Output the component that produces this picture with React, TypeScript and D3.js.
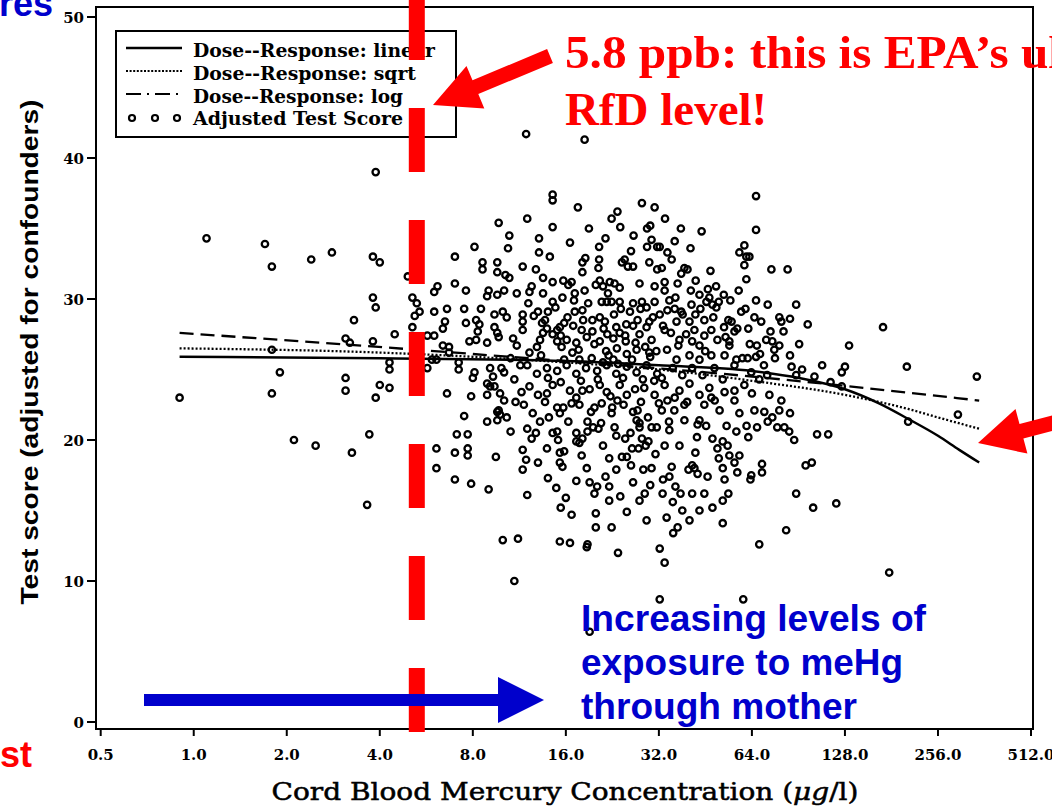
import React from "react";
import * as d3 from "d3";

// axis ticks
const mercuryTicks = [0.5, 1, 2, 4, 8, 16, 32, 64, 128, 256, 512];
const scoreTicks = [0, 10, 20, 30, 40, 50];

// [cord blood mercury (ug/l), adjusted test score]
const testScores: [number, number][] = [
  [0.9, 23.0], [1.1, 34.3], [1.7, 33.9], [1.79, 32.3], [2.4, 32.8], [2.8, 33.3], [3.8, 33.0], [4.0, 32.6],
  [4.93, 31.6], [3.8, 30.1], [3.88, 29.4], [3.3, 28.5], [4.47, 27.5], [3.1, 27.2], [3.2, 26.9], [3.8, 27.0],
  [1.79, 26.4], [4.3, 25.5], [4.3, 25.0], [1.9, 24.8], [3.1, 24.4], [3.1, 23.5], [4.0, 23.9], [4.3, 23.7],
  [1.79, 23.3], [3.88, 23.0], [3.88, 39.0], [2.11, 20.0], [2.48, 19.6], [3.25, 19.1], [3.7, 20.4], [3.64, 15.4],
  [5.1, 30.1], [5.27, 29.7], [5.38, 29.1], [5.19, 28.8], [5.1, 28.0], [6.0, 30.5], [6.15, 30.9], [7.0, 33.0],
  [8.1, 33.7], [8.6, 32.6], [8.6, 32.1], [9.7, 35.4], [9.6, 32.6], [9.6, 31.9], [7.0, 31.1], [7.6, 30.6],
  [9.0, 30.6], [8.9, 30.2], [9.6, 30.3], [6.0, 29.1], [6.6, 29.3], [7.5, 29.3], [8.5, 29.3], [6.5, 28.4],
  [6.4, 27.9], [7.6, 28.3], [8.2, 28.5], [8.4, 28.2], [8.3, 27.7], [5.7, 27.4], [6.0, 27.4], [6.4, 26.7],
  [6.7, 26.6], [7.8, 27.0], [8.2, 27.1], [8.9, 26.9], [5.7, 25.1], [5.9, 25.7], [7.2, 25.5], [7.2, 25.0],
  [8.1, 24.8], [8.0, 24.4], [9.1, 25.1], [9.3, 24.5], [8.9, 24.0], [9.4, 23.8], [6.6, 23.3], [7.9, 23.1],
  [8.9, 23.2], [7.5, 21.7], [9.6, 22.0], [11.9, 41.7], [18.4, 41.3], [14.5, 37.4], [14.5, 37.0], [28.2, 36.8],
  [31.0, 36.5], [22.5, 35.7], [14.5, 35.1], [30.0, 35.2], [29.3, 35.0], [26.5, 34.5], [30.3, 34.2], [31.6, 33.7],
  [29.3, 33.7], [13.1, 34.3], [13.1, 33.3], [14.2, 33.0], [10.4, 33.6], [11.6, 32.3], [12.8, 32.1], [10.2, 31.7],
  [10.5, 31.5], [13.5, 31.5], [14.5, 31.2], [15.7, 31.3], [16.7, 31.2], [16.3, 31.0], [18.5, 32.9], [18.1, 32.6],
  [18.1, 31.9], [20.5, 33.7], [20.5, 32.8], [20.4, 32.2], [24.3, 32.6], [24.8, 32.8], [25.4, 32.3], [26.4, 32.3],
  [31.6, 32.1], [10.1, 30.6], [11.1, 30.4], [12.2, 30.5], [12.4, 30.9], [13.5, 30.4], [14.5, 29.8], [15.6, 30.1],
  [17.1, 30.4], [17.0, 29.9], [18.4, 30.6], [20.0, 31.0], [20.6, 31.3], [21.1, 30.9], [22.2, 31.2], [23.0, 31.1],
  [23.9, 30.8], [21.9, 30.4], [21.7, 29.8], [20.9, 29.8], [22.5, 29.8], [23.9, 29.8], [27.7, 31.1], [31.0, 30.9],
  [26.4, 29.7], [28.2, 29.8], [29.2, 29.4], [31.0, 29.8], [10.0, 29.1], [10.3, 28.7], [9.4, 28.9], [11.6, 28.9],
  [11.6, 28.4], [11.6, 27.8], [12.1, 29.7], [13.0, 29.1], [14.0, 29.1], [13.7, 28.5], [13.4, 28.3], [15.0, 27.8],
  [15.3, 28.0], [15.8, 28.3], [16.2, 28.7], [17.1, 29.1], [18.1, 29.2], [18.2, 28.5], [19.5, 28.5], [20.6, 28.7],
  [21.4, 28.4], [23.3, 28.0], [25.1, 28.2], [27.3, 28.5], [29.8, 28.4], [32.2, 28.9],
  [66, 37.3], [66, 34.9], [37.7, 35.0], [32.2, 33.7], [35.2, 32.8], [60.5, 33.8], [58.3, 33.3], [61.4, 33.0],
  [62.8, 33.0], [60.5, 32.4], [61.4, 31.4], [74, 32.1], [83.5, 32.1], [47, 32.0], [38.7, 32.2], [39.6, 32.1],
  [37.8, 31.8], [42.1, 31.3], [33.4, 31.2], [36.8, 31.1], [49, 30.9], [51.9, 30.3], [46.6, 30.1], [45.6, 29.8],
  [49.1, 29.4], [47.7, 29.6], [66, 29.9], [89, 29.6], [78.5, 28.7], [79.7, 28.4], [68.6, 28.4], [97, 28.2],
  [170, 28.0], [73.5, 27.7], [57.4, 27.9], [56.2, 27.7], [62.3, 27.9], [52.6, 27.3], [54.1, 27.0], [71.2, 27.1],
  [74.5, 27.0], [75.6, 26.4], [78.5, 26.7], [132, 26.7], [85, 26.0], [66, 25.9], [57, 25.7], [59.6, 25.8],
  [62, 25.8], [128, 25.2], [125, 24.8], [102, 24.5], [86, 25.2], [89, 24.6], [93, 25.0], [70, 25.3], [71.7, 24.6],
  [32.7, 32.2], [33.4, 30.6], [34.6, 29.9], [34.1, 29.2], [33.4, 27.8], [37.3, 27.1], [40.2, 28.4], [41.7, 27.8],
  [43.3, 26.7], [44.9, 28.5], [47.3, 27.8], [40.2, 26.0], [36.5, 25.7], [43.3, 25.7], [47.3, 26.0], [49.5, 27.1],
  [52.2, 26.0], [54.1, 26.7], [56.2, 25.3],
  [125, 23.8], [85, 21.9], [78.5, 22.1], [104, 20.4], [113, 20.4], [87.7, 20.0], [74.5, 21.6], [77.3, 20.9],
  [81.5, 20.9], [84.5, 20.6], [62.3, 20.2], [47.7, 20.1], [51.5, 19.9], [53.4, 19.6], [42, 19.1], [50, 18.7],
  [54.1, 18.9], [58.3, 18.9], [56.2, 18.4], [57.4, 17.7], [69, 18.3], [69, 17.7], [63.7, 17.5], [63.3, 17.2],
  [51.5, 18.0], [52.2, 17.2], [95.5, 18.2], [100, 18.4], [41, 18.2], [41.7, 18.0], [42.7, 17.6], [39.9, 17.9],
  [35.2, 18.1], [34.6, 17.4], [36.2, 16.7], [37.6, 16.2], [41, 16.2], [44.9, 16.2], [53.7, 16.2], [51.5, 15.7],
  [47.7, 15.2], [32.9, 16.2], [38.1, 15.0], [33.9, 14.5], [36.8, 13.8], [35.6, 13.4], [51.5, 14.1], [89, 16.2],
  [101, 15.2], [120, 15.5], [82.6, 13.6], [67.6, 12.6], [33.4, 11.3], [178, 10.6], [60, 8.7], [32.2, 8.7],
  [32.2, 12.3], [42.7, 21.1],
  [33.4, 23.9], [37.3, 23.5], [40.2, 24.0], [43.3, 23.2], [46.6, 23.7], [52.2, 23.4], [56.2, 22.8], [60.5, 23.9],
  [64, 23.3], [67.6, 24.3], [34.1, 22.8], [35.9, 22.1], [38.7, 21.4], [44.9, 22.5], [50.3, 22.1], [58.3, 21.9],
  [65.2, 22.1], [70.2, 22.0], [43.3, 21.4], [34.6, 20.7], [33.4, 19.6], [37.3, 19.6], [38.7, 22.5], [32.7, 22.1],
  [203, 25.2], [342, 24.5], [297, 21.8], [205, 21.3],
  [8.9, 21.3], [9.6, 21.4], [9.8, 21.8], [9.7, 22.1], [10.3, 21.6], [11.7, 22.5], [7.1, 20.4], [7.7, 20.4],
  [6.1, 19.4], [6.1, 18.0], [7.0, 19.1], [7.7, 19.4], [7.7, 18.9], [9.5, 18.8], [7.0, 17.2], [7.9, 16.9],
  [9.0, 16.5], [11.6, 19.3], [11.9, 18.6], [11.6, 17.9], [13.0, 18.4], [12.0, 20.8], [12.8, 20.5], [12.4, 20.1],
  [13.2, 21.3], [14.1, 21.6], [14.5, 20.5], [15.0, 20.6], [15.1, 20.0], [15.3, 19.1], [15.8, 19.2], [15.3, 18.4],
  [15.6, 18.1], [17.3, 20.5], [17.7, 19.8], [18.1, 20.1], [17.3, 19.9], [18.7, 18.0], [17.3, 17.1], [19.1, 17.0],
  [20.2, 16.7], [19.8, 16.2], [14.9, 16.6], [15.4, 15.2], [16.7, 14.7], [20.0, 14.8], [20.0, 13.8], [15.3, 12.8],
  [16.5, 12.7], [10.0, 12.9], [11.2, 13.0], [18.8, 12.6], [18.7, 12.4], [23.6, 12.0], [10.9, 10.0], [22.1, 15.7],
  [22.1, 16.7], [22.1, 18.7], [24.3, 18.8], [25.2, 18.8], [23.3, 20.3], [24.9, 20.1], [26.4, 17.0], [30.0, 16.8],
  [28.5, 17.9], [30.3, 18.0], [26.2, 19.4], [27.5, 19.4], [29.0, 19.6], [29.6, 19.9], [28.2, 20.1], [27.7, 20.9],
  [18.8, 20.6], [19.6, 20.9], [20.4, 20.8], [18.8, 21.3], [15.0, 22.3], [15.7, 22.3], [15.3, 21.9], [16.7, 22.6],
  [17.7, 22.5], [19.8, 22.3], [20.9, 22.6], [22.5, 21.9], [23.5, 22.8], [22.6, 22.3], [26.4, 22.0], [27.3, 22.1],
  [27.1, 21.4], [27.7, 21.2], [30.3, 20.9], [31.5, 20.9], [9.1, 23.8], [9.8, 23.3], [10.1, 22.8], [12.2, 23.8],
  [13.0, 23.2], [13.7, 22.7], [13.9, 23.3], [15.4, 24.1], [16.5, 23.5], [17.3, 23.0], [18.1, 23.5], [19.1, 23.6],
  [20.6, 23.9], [21.7, 23.4], [23.9, 23.9], [25.2, 23.2], [28.7, 23.7], [31.0, 23.2], [19.1, 6.4],
  [6.7, 26.2], [9.6, 27.6], [9.4, 28.0], [9.7, 27.3], [9.9, 25.1], [10.1, 24.8], [6.1, 25.7], [12.2, 26.2],
  [12.9, 26.6], [13.2, 27.1], [13.5, 27.6], [13.9, 27.9], [14.5, 27.5], [15.0, 27.0], [15.4, 27.4], [16.1, 27.1],
  [16.8, 26.2], [17.3, 26.9], [18.0, 27.8], [18.7, 27.3], [19.5, 27.7], [20.6, 27.0], [21.8, 27.5], [22.8, 27.2],
  [23.9, 27.6], [25.0, 27.0], [26.4, 28.1], [27.7, 27.5], [29.2, 28.0], [30.3, 27.1], [12.0, 25.3], [12.9, 24.7],
  [13.9, 25.1], [15.0, 24.9], [16.1, 25.3], [17.3, 24.7], [18.6, 25.1], [20.2, 24.9], [21.7, 25.3], [23.3, 24.7],
  [25.2, 25.2], [27.1, 24.8], [29.2, 25.3], [31.6, 24.7], [21.6, 26.3], [23.4, 26.5], [25.2, 26.1], [27.1, 26.4],
  [29.8, 26.2], [10.6, 25.8], [11.1, 26.7], [10.9, 24.3], [11.5, 23.4], [14.5, 23.9], [15.8, 25.7], [17.7, 25.7],
  [19.4, 25.8], [21.1, 25.5], [22.8, 25.7], [24.5, 24.4], [26.2, 25.7], [28.4, 24.3], [30.0, 25.9], [32.7, 24.4],
  [35.5, 25.1], [38.1, 24.6], [41.0, 25.1], [44.3, 24.6], [48.4, 25.1], [51.5, 24.3], [63.7, 24.8], [53.7, 28.5],
  [59.1, 29.1], [65.2, 28.7], [40.8, 29.6], [37.8, 29.1], [43.3, 30.3], [54.5, 29.9], [36.2, 30.1], [29.8, 32.6],
  [34.1, 33.3], [36.5, 28.4], [41.0, 27.0], [44.9, 27.4], [66.4, 26.7], [56.2, 23.5], [47.3, 23.0], [72.9, 23.2],
  [79.7, 22.8], [10.6, 20.6], [13.9, 19.4], [21.1, 19.6], [23.3, 17.9], [27.7, 15.7], [25.2, 14.9], [29.2, 14.3],
  [40.2, 14.3], [22.5, 13.8], [43.3, 15.0],
  [10.8, 27.2], [11.4, 25.3], [12.6, 28.8], [13.3, 26.0], [14.8, 29.4], [15.5, 26.6], [16.9, 28.1], [17.6, 26.4],
  [18.9, 29.7], [19.8, 26.8], [20.3, 24.3], [21.2, 27.9], [22.0, 26.0], [22.9, 28.9], [23.6, 25.4], [24.1, 29.3],
  [24.9, 27.4], [25.8, 29.1], [26.9, 26.9], [27.9, 29.3], [28.9, 26.6], [30.6, 28.7], [31.4, 26.3], [33.0, 28.1],
  [34.0, 26.4], [35.0, 27.6], [36.0, 29.3], [37.0, 26.7], [38.2, 28.9], [39.2, 27.5], [40.6, 30.6], [42.0, 28.9],
  [43.6, 29.3], [45.2, 26.3], [46.1, 30.7], [48.0, 28.7], [50.0, 29.8], [52.0, 28.0], [55.0, 28.4], [58.0, 30.6],
  [61.0, 29.3], [63.0, 26.8], [68.0, 26.1], [72.0, 29.6], [76.0, 25.8], [81.0, 27.7], [85.0, 28.6], [91.0, 26.8],
  [108, 25.3], [115, 24.1], [11.0, 22.7], [12.5, 21.9], [14.0, 24.4], [16.3, 21.3], [17.9, 24.2], [19.3, 22.0],
  [20.8, 21.2], [22.3, 23.1], [23.0, 20.9], [24.6, 22.5], [25.9, 20.5], [26.8, 23.6], [28.0, 22.7], [29.5, 21.6],
  [30.9, 24.2], [32.0, 22.6], [34.5, 21.3], [36.0, 23.0], [39.5, 22.7], [42.5, 20.2], [45.5, 21.0], [48.5, 22.8],
  [53.0, 21.0], [57.0, 20.6], [61.5, 21.0], [66.5, 20.9], [72.0, 21.3], [18.0, 18.9], [21.5, 17.4], [24.0, 16.0],
  [26.0, 18.2], [28.8, 16.2], [31.2, 19.0], [33.0, 17.2], [35.5, 15.6], [46.0, 17.4], [49.5, 19.4], [14.0, 17.3],
  [12.0, 16.1], [16.0, 15.9], [10.5, 34.5], [12.0, 35.7], [16.5, 34.0], [19.0, 35.0], [21.5, 34.3], [24.0, 35.1],
  [26.0, 33.4], [33.5, 35.7], [36.0, 34.1], [40.5, 33.6], [44.0, 34.8], [23.5, 36.2], [17.5, 36.5],
];

// fitted curves, read as points along each line
const fitLinear: [number, number][] = [
  [0.9, 25.9], [4, 25.8], [16, 25.6], [32, 25.3], [64, 24.9], [91, 24.4], [128, 23.6], [165, 22.6],
  [205, 21.5], [256, 20.3], [300, 19.3], [348, 18.4],
];
const fitSqrt: [number, number][] = [
  [0.9, 26.5], [4, 26.2], [16, 25.5], [32, 25.0], [64, 24.2], [128, 23.2], [205, 22.2], [256, 21.6], [348, 20.8],
];
const fitLog: [number, number][] = [[0.9, 27.6], [8, 26.1], [64, 24.5], [348, 22.8]];

const legendLabels = [
  "Dose--Response: linear",
  "Dose--Response: sqrt",
  "Dose--Response: log",
  "Adjusted Test Score",
];
const legendWidths = [242, 223, 210, 210];

const rfdLevel = 5.27;
const blueLines = ["Increasing levels of", "exposure to meHg", "through mother"];
const blueWidths = [345, 322, 276];

const serif = "'DejaVu Serif', serif";
const sans = "'Liberation Sans', Arial, sans-serif";
const redTimes = "'Liberation Serif', 'Times New Roman', serif";

function arrowPath(tail: [number, number], tip: [number, number], shaft: number, headLen: number, headW: number) {
  const dx = tip[0] - tail[0];
  const dy = tip[1] - tail[1];
  const len = Math.hypot(dx, dy);
  const ux = dx / len, uy = dy / len;
  const nx = -uy, ny = ux;
  const bx = tip[0] - ux * headLen, by = tip[1] - uy * headLen;
  const p = (x: number, y: number) => `${x.toFixed(1)},${y.toFixed(1)}`;
  return (
    "M" + p(tail[0] + nx * shaft / 2, tail[1] + ny * shaft / 2) +
    "L" + p(bx + nx * shaft / 2, by + ny * shaft / 2) +
    "L" + p(bx + nx * headW / 2, by + ny * headW / 2) +
    "L" + p(tip[0], tip[1]) +
    "L" + p(bx - nx * headW / 2, by - ny * headW / 2) +
    "L" + p(bx - nx * shaft / 2, by - ny * shaft / 2) +
    "L" + p(tail[0] - nx * shaft / 2, tail[1] - ny * shaft / 2) + "Z"
  );
}

export default function App() {
  const x = d3.scaleLog().base(2).domain([0.5, 512]).range([100.7, 1031]);
  const y = d3.scaleLinear().domain([0, 50]).range([722, 17]);
  const fitLine = d3
    .line<[number, number]>()
    .x((d) => x(d[0]))
    .y((d) => y(d[1]))
    .curve(d3.curveMonotoneX);

  const left = 96, right = 1033, top = 7, bottom = 729;
  const legendX = 116, legendY = 31;
  const rowBase = [57, 80, 103, 125];

  return (
    <div style={{ width: 1052, height: 809 }}>
      <style>{"body{margin:0;background:#fff}"}</style>
      <svg width={1052} height={809} style={{ display: "block" }}>
        <rect width={1052} height={809} fill="#fff" />

        {/* frame */}
        <rect x={left} y={top} width={right - left} height={bottom - top} fill="none" stroke="#000" strokeWidth={2} />

        {/* y axis */}
        {scoreTicks.map((t) => (
          <g key={"y" + t}>
            <line x1={87} x2={left} y1={y(t)} y2={y(t)} stroke="#000" strokeWidth={2} />
            <text x={84} y={y(t) + 5.5} textAnchor="end" fontFamily={serif} fontWeight="bold" fontSize={15}>
              {t}
            </text>
          </g>
        ))}
        <text
          transform="translate(38,352) rotate(-90)"
          textAnchor="middle"
          fontFamily={sans}
          fontWeight="bold"
          fontSize={24}
          textLength={505}
          lengthAdjust="spacingAndGlyphs"
        >
          Test score (adjusted for confounders)
        </text>

        {/* x axis */}
        {mercuryTicks.map((t) => (
          <g key={"x" + t}>
            <line x1={x(t)} x2={x(t)} y1={bottom} y2={bottom + 7} stroke="#000" strokeWidth={2} />
            <text x={x(t)} y={760} textAnchor="middle" fontFamily={serif} fontWeight="bold" fontSize={15}>
              {t.toFixed(1)}
            </text>
          </g>
        ))}
        <text
          x={565}
          y={800}
          textAnchor="middle"
          fontFamily={serif}
          fontSize={24}
          stroke="#000"
          strokeWidth={0.5}
          textLength={587}
          lengthAdjust="spacingAndGlyphs"
        >
          Cord Blood Mercury Concentration (<tspan fontStyle="italic">μg</tspan>/l)
        </text>

        {/* scatter */}
        <g fill="none" stroke="#000" strokeWidth={2.3}>
          {testScores.map((d, i) => (
            <circle key={i} cx={x(d[0])} cy={y(d[1])} r={3.2} />
          ))}
        </g>

        {/* fits */}
        <path d={fitLine(fitLog) || ""} fill="none" stroke="#000" strokeWidth={2.3} strokeDasharray="14,7" />
        <path d={fitLine(fitSqrt) || ""} fill="none" stroke="#000" strokeWidth={2.3} strokeDasharray="2,2" />
        <path d={fitLine(fitLinear) || ""} fill="none" stroke="#000" strokeWidth={2.5} />

        {/* legend */}
        <rect x={legendX} y={legendY} width={340} height={106} fill="#fff" stroke="#000" strokeWidth={2} />
        <line x1={126} x2={182} y1={48} y2={48} stroke="#000" strokeWidth={2.4} />
        <line x1={126} x2={182} y1={71} y2={71} stroke="#000" strokeWidth={2} strokeDasharray="2,1.6" />
        <line x1={126} x2={182} y1={94} y2={94} stroke="#000" strokeWidth={2.2} strokeDasharray="15,6,2,6" />
        <g fill="none" stroke="#000" strokeWidth={2.2}>
          {[132, 155, 177].map((cx) => (
            <circle key={cx} cx={cx} cy={118} r={3} />
          ))}
        </g>
        {legendLabels.map((l, i) => (
          <text
            key={l}
            x={193}
            y={rowBase[i]}
            fontFamily={serif}
            fontWeight="bold"
            fontSize={18}
            textLength={legendWidths[i]}
            lengthAdjust="spacingAndGlyphs"
          >
            {l}
          </text>
        ))}

        {/* red RfD marker */}
        <line
          x1={x(rfdLevel)}
          x2={x(rfdLevel)}
          y1={-4}
          y2={732}
          stroke="#ff0000"
          strokeWidth={16}
          strokeDasharray="64,48"
        />
        <text
          x={565}
          y={68}
          fill="#ff0000"
          fontFamily={redTimes}
          fontWeight="bold"
          fontSize={47}
          textLength={497}
          lengthAdjust="spacingAndGlyphs"
        >
          5.8 ppb: this is EPA’s ul
        </text>
        <text x={565} y={125} fill="#ff0000" fontFamily={redTimes} fontWeight="bold" fontSize={47}>
          RfD level!
        </text>
        <path d={arrowPath([550, 56], [433, 105], 15, 46, 46)} fill="#ff0000" />
        <path d={arrowPath([1075, 417], [978, 443], 15, 45, 46)} fill="#ff0000" />
        <text x={32} y={767} textAnchor="end" fill="#ff0000" fontFamily={sans} fontWeight="bold" fontSize={36}>
          st
        </text>

        {/* blue annotation */}
        <text x={53} y={16} textAnchor="end" fill="#0000cc" fontFamily={sans} fontWeight="bold" fontSize={36}>
          ures
        </text>
        <path d={arrowPath([144, 700], [544, 700], 12, 46, 46)} fill="#0000cc" />
        {blueLines.map((l, i) => (
          <text
            key={l}
            x={581}
            y={631 + i * 44}
            fill="#0000cc"
            fontFamily={sans}
            fontWeight="bold"
            fontSize={36}
            textLength={blueWidths[i]}
            lengthAdjust="spacingAndGlyphs"
          >
            {l}
          </text>
        ))}
      </svg>
    </div>
  );
}
